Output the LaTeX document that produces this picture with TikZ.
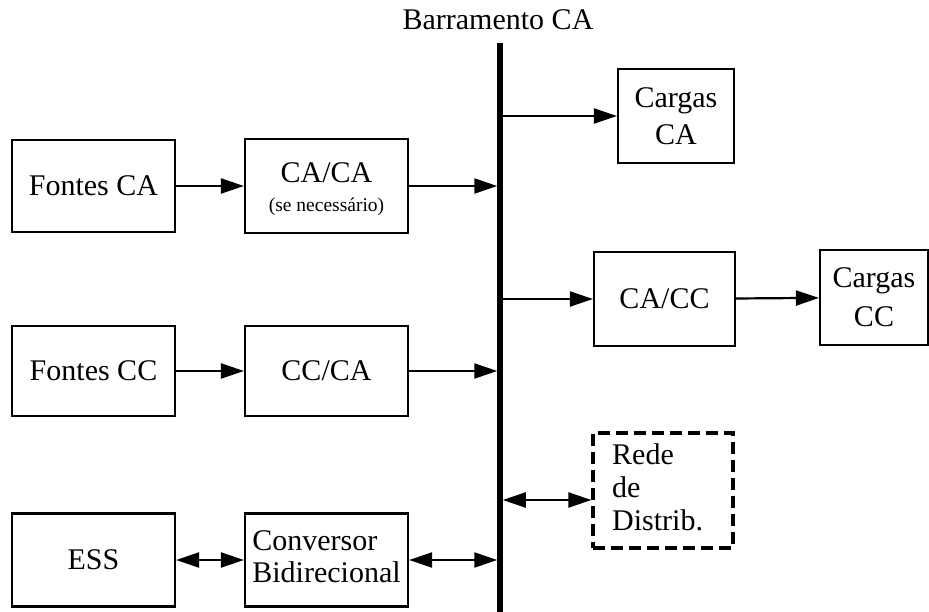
\documentclass[tikz,border=0pt]{standalone}
\usepackage{fontspec}
\setmainfont{Liberation Serif}
\usetikzlibrary{arrows.meta}
\begin{document}
\begin{tikzpicture}[x=1pt,y=-1pt,
  every node/.style={font=\fontsize{30}{37}\selectfont},
  blk/.style={draw, line width=2.2pt, rectangle, inner sep=0pt, align=center},
  dashblk/.style={draw, line width=3.2pt, dash pattern=on 12pt off 6pt, rectangle, inner sep=0pt,
    fill=white},
  lbl/.style={inner sep=0pt},
  arr/.style={line width=2.2pt, -{Triangle[length=23pt,width=15pt]}},
  darr/.style={line width=2.2pt, {Triangle[length=23pt,width=15pt]}-{Triangle[length=23pt,width=15pt]}},
  busline/.style={line width=5.5pt}
]
\useasboundingbox (0,0) rectangle (929,612);

% AC bus
\coordinate (bustop) at (500,43);
\coordinate (busbot) at (500,612);
\draw[busline] (bustop) -- (busbot);
\node (title) at (498,20) {Barramento CA};

% sources side
\node[blk, minimum width=163pt, minimum height=92pt] (fca) at (93.5,186) {Fontes CA};
\node[blk, minimum width=163pt, minimum height=94pt] (caca) at (326.5,186) {};
\node[lbl, align=center] (cacatext) at (326.5,189)
  {CA/CA\\[-8pt]{\fontsize{19.5}{22}\selectfont (se necessário)}};
\node[blk, minimum width=163pt, minimum height=90pt] (fcc) at (93.5,371) {Fontes CC};
\node[blk, minimum width=163pt, minimum height=90pt] (ccca) at (326.5,371) {CC/CA};
\node[blk, minimum width=163pt, minimum height=93pt] (ess) at (93.5,560) {ESS};
\node[blk, minimum width=163pt, minimum height=93pt] (conv) at (326.5,560) {};
\node[lbl, align=left, font=\fontsize{30}{32}\selectfont] (convtext) at (326.5,556.5)
  {Conversor\\Bidirecional};

% loads side
\node[blk, minimum width=116pt, minimum height=94pt] (cargasca) at (676,116) {Cargas\\CA};
\node[blk, minimum width=141pt, minimum height=94pt] (cacc) at (664.5,299) {CA/CC};
\node[blk, minimum width=108pt, minimum height=95pt, font=\fontsize{30}{39}\selectfont] (cargascc) at (874,297.5) {Cargas\\CC};
\node[dashblk, minimum width=140pt, minimum height=115pt] (rede) at (663,490.5) {};
\node[lbl, align=left, anchor=west, font=\fontsize{30}{33}\selectfont] (redetext) at (612,487.5)
  {Rede\\de\\Distrib.};

% connectors
\draw[arr] (fca) -- (caca);
\draw[arr, shorten >=2.75pt] (caca.east) -- (caca.east -| bustop);
\draw[arr] (fcc) -- (ccca);
\draw[arr, shorten >=2.75pt] (ccca.east) -- (ccca.east -| bustop);
\draw[darr] (ess) -- (conv);
\draw[darr, shorten >=2.75pt] (conv.east) -- (conv.east -| bustop);
\draw[arr] (cargasca.west -| bustop) -- (cargasca.west);
\draw[arr] (cacc.west -| bustop) -- (cacc.west);
\draw[arr] (cacc) -- (cargascc);
\draw[darr, shorten <=2.75pt] ([yshift=-9.5pt]rede.west -| bustop) -- ([yshift=-9.5pt]rede.west);
\end{tikzpicture}
\end{document}
